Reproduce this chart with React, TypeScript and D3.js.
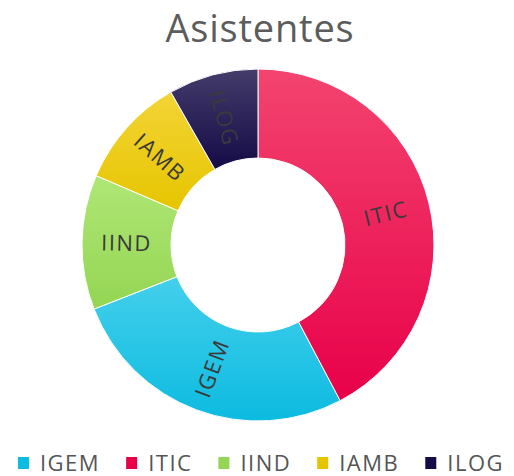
import { useRef, useEffect } from 'react'
import * as d3 from 'd3'

// legend order
const categories: string[] = ['IGEM', 'ITIC', 'IIND', 'IAMB', 'ILOG']
const asistentes: number[] = [26, 41, 12, 10, 8]
// order of the slices, clockwise from the top
const sliceOrder: string[] = ['ITIC', 'IGEM', 'IIND', 'IAMB', 'ILOG']

const colors: Record<string, [string, string]> = {
  IGEM: ['#44cfec', '#0cbbe0'],
  ITIC: ['#f3446f', '#e80049'],
  IIND: ['#afe776', '#94d553'],
  IAMB: ['#f3d436', '#e6c500'],
  ILOG: ['#443c6a', '#140b47'],
}

export default function App() {
  const svgRef = useRef(null)

  const width: number = 514
  const height: number = 476
  const cx: number = 258
  const cy: number = 245
  const outerRadius: number = 176
  const innerRadius: number = 87

  useEffect(() => {
    document.body.style.margin = '0'
    const svg = d3.select(svgRef.current)
    svg.selectAll('*').remove()
    svg.attr('width', width).attr('height', height)

    const data = categories.map((c, i) => ({ name: c, value: asistentes[i] }))

    // gradients, one per slice
    const defs = svg.append('defs')
    categories.forEach((c) => {
      const g = defs.append('linearGradient')
        .attr('id', 'grad-' + c)
        .attr('x1', 0).attr('y1', 0).attr('x2', 0).attr('y2', 1)
      g.append('stop').attr('offset', '0%').attr('stop-color', colors[c][0])
      g.append('stop').attr('offset', '100%').attr('stop-color', colors[c][1])
    })

    // title
    svg.append('text')
      .attr('x', 260)
      .attr('y', 42)
      .attr('text-anchor', 'middle')
      .attr('font-family', '"Open Sans", sans-serif')
      .attr('font-size', 38)
      .attr('letter-spacing', 0.8)
      .attr('fill', '#5c5c5c')
      .text('Asistentes')

    const pie = d3.pie<{ name: string, value: number }>()
      .value(d => d.value)
      .sort((a, b) => sliceOrder.indexOf(a.name) - sliceOrder.indexOf(b.name))
    const piedata = pie(data)

    const arc: any = d3.arc()
      .innerRadius(innerRadius)
      .outerRadius(outerRadius)

    const arcs = svg.selectAll('g.slice')
      .data(piedata)
      .enter()
      .append('g')
      .attr('class', 'slice')
      .attr('transform', 'translate(' + cx + ',' + cy + ')')

    arcs.append('path')
      .attr('d', arc)
      .attr('fill', d => 'url(#grad-' + d.data.name + ')')
      .attr('stroke', 'white')
      .attr('stroke-width', 1)

    // labels, along the radius
    arcs.append('text')
      .attr('transform', function (d: any) {
        const c = arc.centroid(d)
        const mid = ((d.startAngle + d.endAngle) / 2) * 180 / Math.PI
        const rot = mid < 180 ? mid - 90 : mid - 270
        return 'translate(' + c + ') rotate(' + rot + ')'
      })
      .attr('text-anchor', 'middle')
      .attr('dy', '0.36em')
      .attr('font-family', '"Open Sans", sans-serif')
      .attr('font-size', 22)
      .attr('letter-spacing', 1.5)
      .attr('fill', '#3a3a3a')
      .text(d => d.data.name)

    // legend
    const legend = svg.append('g')
    const items = legend.selectAll('g')
      .data(categories)
      .enter()
      .append('g')
    items.append('rect')
      .attr('width', 11)
      .attr('height', 12)
      .attr('y', -6)
      .attr('fill', d => colors[d][1])
    const labels = items.append('text')
      .attr('x', 22)
      .attr('dy', '0.36em')
      .attr('font-family', '"Open Sans", sans-serif')
      .attr('font-size', 22)
      .attr('letter-spacing', 1.5)
      .attr('fill', '#555555')
      .text(d => d)
    const widths: number[] = []
    labels.each(function () { widths.push((this as SVGTextElement).getComputedTextLength()) })
    const gap = 26
    let x = 0
    const xs: number[] = []
    widths.forEach(w => { xs.push(x); x += 22 + w + gap })
    const total = x - gap
    items.attr('transform', (d, i) => 'translate(' + (xs[i] + (width - total) / 2 + 4) + ',' + 463 + ')')
  }, [])

  return (
    <svg ref={svgRef} style={{ display: 'block' }} />
  )
}
